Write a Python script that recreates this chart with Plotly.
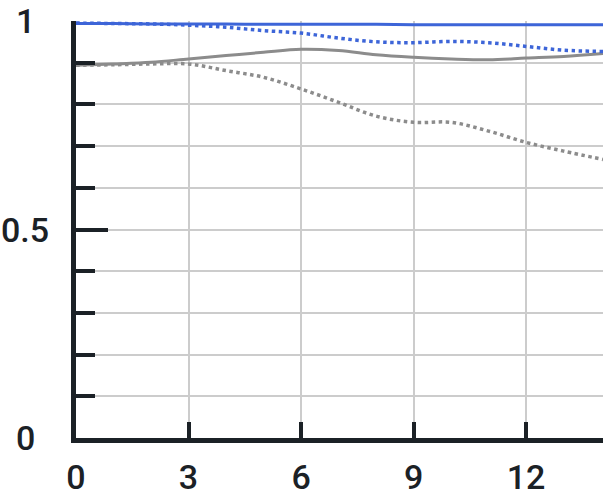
import plotly.graph_objects as go

# spatial frequency positions (x) and MTF values
x_vals = [0, 1, 2, 3, 4, 5, 6, 7, 8, 9, 10, 11, 12, 13, 14.05]
blue_solid = [0.994, 0.994, 0.993, 0.993, 0.993, 0.992, 0.992, 0.992, 0.992, 0.991, 0.991, 0.991, 0.991, 0.991, 0.991]
blue_dotted = [0.995, 0.994, 0.993, 0.990, 0.985, 0.977, 0.971, 0.959, 0.950, 0.948, 0.951, 0.948, 0.939, 0.930, 0.927]
gray_solid = [0.894, 0.897, 0.901, 0.909, 0.917, 0.925, 0.932, 0.929, 0.919, 0.913, 0.909, 0.907, 0.911, 0.915, 0.922]
gray_dotted = [0.894, 0.895, 0.897, 0.897, 0.881, 0.865, 0.837, 0.805, 0.772, 0.757, 0.757, 0.736, 0.709, 0.688, 0.668]

x_ticks = [0, 3, 6, 9, 12, 14.05]
x_ticktext = ["0", "3", "6", "9", "12", ""]
y_major = [0, 0.5, 1]
y_labels = ["0", "0.5", "1"]
y_minor = [0.1, 0.2, 0.3, 0.4, 0.6, 0.7, 0.8, 0.9]

BLUE = "#3d65d8"
GRAY = "#8c8c8c"
INK = "#1b2126"
GRID = "#cccccc"
FONT = "Roboto"
WEIGHT = 500

fig = go.Figure()
fig.add_trace(go.Scatter(x=x_vals, y=gray_dotted, mode="lines",
                         line=dict(color=GRAY, width=3.5, dash="dot", shape="spline")))
fig.add_trace(go.Scatter(x=x_vals, y=gray_solid, mode="lines",
                         line=dict(color=GRAY, width=3, shape="spline")))
fig.add_trace(go.Scatter(x=x_vals, y=blue_dotted, mode="lines",
                         line=dict(color=BLUE, width=3.5, dash="dot", shape="spline")))
fig.add_trace(go.Scatter(x=x_vals, y=blue_solid, mode="lines",
                         line=dict(color=BLUE, width=3, shape="spline")))

for v, t in zip(y_major, y_labels):
    fig.add_annotation(x=0, xref="paper", y=v, yref="y", text=t, showarrow=False,
                       xanchor="center", yanchor="middle", xshift=-51,
                       font=dict(family=FONT, size=34, color=INK, weight=WEIGHT))

fig.update_xaxes(range=[0, 14.05], tickmode="array", tickvals=x_ticks, ticktext=x_ticktext,
                 ticks="inside", ticklen=16, tickwidth=4, tickcolor=INK,
                 showline=True, linewidth=4.5, linecolor=INK, automargin=False,
                 showgrid=True, gridcolor=GRID, gridwidth=2, zeroline=False,
                 tickfont=dict(family=FONT, size=34, color=INK, weight=WEIGHT), ticklabelstandoff=5)
fig.update_yaxes(range=[0, 1], tickmode="array", tickvals=y_major, showticklabels=False,
                 ticks="inside", ticklen=32, tickwidth=4, tickcolor=INK, automargin=False,
                 showline=True, linewidth=4.5, linecolor=INK,
                 showgrid=True, gridcolor=GRID, gridwidth=2, zeroline=False,
                 minor=dict(tickmode="array", tickvals=y_minor, ticks="inside", ticklen=19,
                            tickwidth=4, tickcolor=INK, showgrid=True, gridcolor=GRID, gridwidth=2))

fig.update_layout(width=612, height=495, showlegend=False,
                  margin=dict(l=76, r=9, t=21, b=57),
                  plot_bgcolor="white", paper_bgcolor="white")

# remove the browser's default 8px body margin so the figure sits at the page origin
fig.write_html("out.html", config={"displayModeBar": False},
               post_script="document.body.style.margin='0';")
